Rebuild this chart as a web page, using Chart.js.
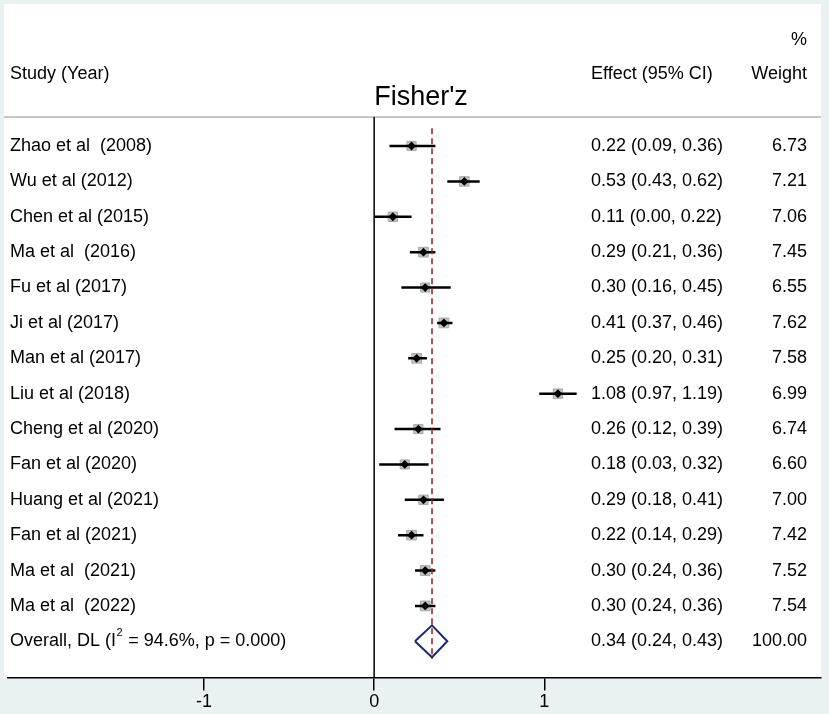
<!DOCTYPE html>
<html>
<head>
<meta charset="utf-8">
<script src="https://cdn.jsdelivr.net/npm/chart.js@4.4.1/dist/chart.umd.min.js"></script>
<style>
  html, body { margin: 0; padding: 0; background: #eaf1f3; }
  canvas { display: block; }
</style>
</head>
<body>
<canvas id="forest" width="829" height="714"></canvas>
<script>
// Forest plot of Fisher's z effects, one row per study plus the pooled estimate.

// ---- Data --------------------------------------------------------------------
const studies = [
    'Zhao et al  (2008)', 'Wu et al (2012)', 'Chen et al (2015)', 'Ma et al  (2016)',
    'Fu et al (2017)', 'Ji et al (2017)', 'Man et al (2017)', 'Liu et al (2018)',
    'Cheng et al (2020)', 'Fan et al (2020)', 'Huang et al (2021)', 'Fan et al (2021)',
    'Ma et al  (2021)', 'Ma et al  (2022)'
];
const effects = [0.22, 0.53, 0.11, 0.29, 0.30, 0.41, 0.25, 1.08, 0.26, 0.18, 0.29, 0.22, 0.30, 0.30];
const ciLow   = [0.09, 0.43, 0.00, 0.21, 0.16, 0.37, 0.20, 0.97, 0.12, 0.03, 0.18, 0.14, 0.24, 0.24];
const ciHigh  = [0.36, 0.62, 0.22, 0.36, 0.45, 0.46, 0.31, 1.19, 0.39, 0.32, 0.41, 0.29, 0.36, 0.36];
const weights = [6.73, 7.21, 7.06, 7.45, 6.55, 7.62, 7.58, 6.99, 6.74, 6.60, 7.00, 7.42, 7.52, 7.54];

const overallEst = 0.34;
const overallCI = [0.24, 0.43];
const overallWeight = 100.00;
const overallLabel = ['Overall, DL (I', '2', ' = 94.6%, p = 0.000)'];

const xTicks = [-1, 0, 1];

// ---- Layout ------------------------------------------------------------------
const PX_PER_UNIT = 171;
const ZERO_PX = 372;
const AREA_LEFT = 4, AREA_RIGHT = 821, AREA_TOP = 117;
const X_MIN = (AREA_LEFT - ZERO_PX) / PX_PER_UNIT;
const X_MAX = (AREA_RIGHT - ZERO_PX) / PX_PER_UNIT;
const Y_MIN = -0.82, Y_MAX = 15.02; // row index, drawn top to bottom
const OVERALL_ROW = studies.length;

const FONT = '"Liberation Sans", Arial, sans-serif';
const TEXT_SIZE = 18;
const BG = '#eaf1f3';

// ---- Datasets built from the arrays ------------------------------------------
const ciSegments = [];
studies.forEach((s, i) => {
    ciSegments.push({ x: ciLow[i], y: i }, { x: ciHigh[i], y: i }, { x: null, y: null });
});
const pointRows = effects.map((e, i) => ({ x: e, y: i }));
const diamond = [
    { x: overallCI[0], y: OVERALL_ROW },
    { x: overallEst, y: OVERALL_ROW - 0.45 },
    { x: overallCI[1], y: OVERALL_ROW },
    { x: overallEst, y: OVERALL_ROW + 0.45 },
    { x: overallCI[0], y: OVERALL_ROW }
];

const backdrop = {
    id: 'backdrop',
    beforeDraw(chart) {
        const c = chart.ctx;
        c.save();
        c.fillStyle = BG;
        c.fillRect(0, 0, chart.width, chart.height);
        c.fillStyle = '#ffffff';
        c.fillRect(AREA_LEFT, 4, AREA_RIGHT - AREA_LEFT, chart.chartArea.bottom - 4);
        c.strokeStyle = '#b5b5b5';
        c.lineWidth = 1.5;
        c.beginPath();
        c.moveTo(AREA_LEFT, AREA_TOP);
        c.lineTo(AREA_RIGHT, AREA_TOP);
        c.stroke();
        c.restore();
    }
};

const columns = {
    id: 'columns',
    afterDraw(chart) {
        const c = chart.ctx;
        const y = chart.scales.y;
        const f = TEXT_SIZE + 'px ' + FONT;
        c.save();
        c.fillStyle = '#000';
        c.font = f;
        c.textBaseline = 'middle';

        // header
        c.textAlign = 'left';
        c.fillText('Study (Year)', 10, 74);
        c.fillText('Effect (95% CI)', 591, 74);
        c.textAlign = 'right';
        c.fillText('Weight', 807, 74);
        c.fillText('%', 807, 40);
        c.textAlign = 'center';
        c.textBaseline = 'alphabetic';
        c.font = '27px ' + FONT;
        c.fillText("Fisher'z", 421, 105);

        c.font = f;
        c.textBaseline = 'middle';
        studies.forEach((s, i) => {
            const py = y.getPixelForValue(i);
            c.textAlign = 'left';
            c.fillText(s, 10, py);
            c.fillText(effects[i].toFixed(2) + ' (' + ciLow[i].toFixed(2) + ', ' + ciHigh[i].toFixed(2) + ')', 591, py);
            c.textAlign = 'right';
            c.fillText(weights[i].toFixed(2), 807, py);
        });

        // pooled row with the superscript in I²
        const oy = y.getPixelForValue(OVERALL_ROW);
        c.textAlign = 'left';
        let x = 10;
        c.fillText(overallLabel[0], x, oy);
        x += c.measureText(overallLabel[0]).width;
        c.font = '11px ' + FONT;
        c.fillText(overallLabel[1], x + 0.5, oy - 8);
        x += c.measureText(overallLabel[1]).width + 1;
        c.font = f;
        c.fillText(overallLabel[2], x, oy);
        c.fillText(overallEst.toFixed(2) + ' (' + overallCI[0].toFixed(2) + ', ' + overallCI[1].toFixed(2) + ')', 591, oy);
        c.textAlign = 'right';
        c.fillText(overallWeight.toFixed(2), 807, oy);
        c.restore();
    }
};

new Chart(document.getElementById('forest'), {
    type: 'scatter',
    data: {
        datasets: [
            {
                // pooled estimate reference line
                data: [{ x: overallEst, y: -0.5 }, { x: overallEst, y: OVERALL_ROW + 0.5 }],
                showLine: true,
                borderColor: '#a3161a',
                borderWidth: 1.5,
                borderDash: [6, 4],
                pointRadius: 0,
                order: -1
            },
            {
                data: pointRows,
                pointStyle: 'rectRot',
                pointRadius: 4.4,
                backgroundColor: '#000',
                borderColor: '#000',
                borderWidth: 0,
                order: 0
            },
            {
                data: ciSegments,
                showLine: true,
                spanGaps: false,
                borderColor: '#000',
                borderWidth: 2.5,
                pointRadius: 0,
                order: 1
            },
            {
                // weight boxes, area proportional to study weight
                data: pointRows,
                pointStyle: 'rect',
                pointRadius: ctx => 2.5 * Math.sqrt(weights[ctx.dataIndex] || 0),
                backgroundColor: '#c2c2c2',
                borderColor: '#a8a8a8',
                borderWidth: 1,
                order: 2
            },
            {
                data: diamond,
                showLine: true,
                borderColor: '#1c2a6e',
                borderWidth: 2,
                pointRadius: 0,
                order: 1
            },
            {
                // null line at zero
                data: [{ x: 0, y: Y_MIN }, { x: 0, y: Y_MAX }],
                showLine: true,
                borderColor: '#000',
                borderWidth: 1.5,
                pointRadius: 0,
                order: 3
            }
        ]
    },
    options: {
        responsive: false,
        animation: false,
        devicePixelRatio: 1,
        layout: {
            padding: { left: AREA_LEFT, right: 829 - AREA_RIGHT, top: AREA_TOP, bottom: 0 }
        },
        scales: {
            x: {
                type: 'linear',
                min: X_MIN,
                max: X_MAX,
                afterBuildTicks: scale => { scale.ticks = xTicks.map(v => ({ value: v })); },
                grid: {
                    drawOnChartArea: false,
                    drawTicks: true,
                    tickLength: 13,
                    color: '#000',
                    lineWidth: 1.5
                },
                border: { display: true, color: '#000', width: 1.5 },
                ticks: {
                    color: '#000',
                    padding: 1,
                    font: { family: FONT, size: TEXT_SIZE },
                    callback: v => String(v)
                }
            },
            y: {
                type: 'linear',
                display: false,
                reverse: true,
                min: Y_MIN,
                max: Y_MAX
            }
        },
        plugins: {
            legend: { display: false },
            tooltip: { enabled: false }
        }
    },
    plugins: [backdrop, columns]
});
</script>
</body>
</html>
